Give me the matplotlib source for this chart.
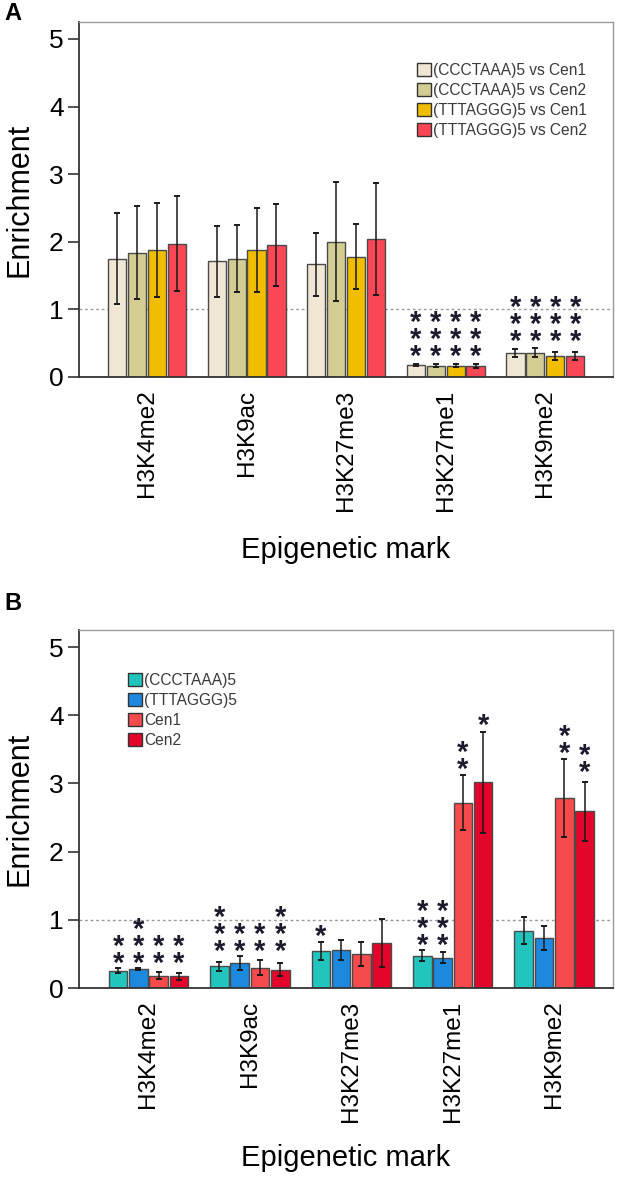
"""
Histone mark enrichment at telomeric repeats vs centromeric repeats.
Two stacked bar panels (A: ratios, B: per-probe enrichment).
"""

import numpy as np
import matplotlib
matplotlib.use("Agg")
import matplotlib.pyplot as plt
import matplotlib.transforms as mtransforms
from matplotlib.patches import Patch

plt.rcParams["font.family"] = ["Liberation Sans", "DejaVu Sans"]

W, H = 629, 1185

marks = ["H3K4me2", "H3K9ac", "H3K27me3", "H3K27me1", "H3K9me2"]

# ---- panel A: telomeric repeat vs centromeric repeat ratios ----
a_labels = ["(CCCTAAA)5 vs Cen1", "(CCCTAAA)5 vs Cen2",
            "(TTTAGGG)5 vs Cen1", "(TTTAGGG)5 vs Cen2"]
a_ccc_cen1 = [1.75, 1.71, 1.665, 0.18, 0.36]
a_ccc_cen1_err = [0.67, 0.52, 0.46, 0.015, 0.06]
a_ccc_cen2 = [1.84, 1.75, 2.00, 0.17, 0.36]
a_ccc_cen2_err = [0.69, 0.50, 0.88, 0.02, 0.065]
a_ttt_cen1 = [1.88, 1.88, 1.78, 0.17, 0.31]
a_ttt_cen1_err = [0.70, 0.62, 0.48, 0.02, 0.055]
a_ttt_cen2 = [1.97, 1.95, 2.04, 0.16, 0.31]
a_ttt_cen2_err = [0.70, 0.61, 0.83, 0.03, 0.065]
# number of significance stars per bar and height of the lowest star
a_stars = [[0, 0, 0, 3, 3]] * 4
a_star_base = [[0, 0, 0, 0.40, 0.62]] * 4

# ---- panel B: enrichment per probe ----
b_labels = ["(CCCTAAA)5", "(TTTAGGG)5", "Cen1", "Cen2"]
b_ccc = [0.254, 0.32, 0.54, 0.47, 0.84]
b_ccc_err = [0.04, 0.065, 0.13, 0.08, 0.20]
b_ttt = [0.28, 0.37, 0.56, 0.445, 0.73]
b_ttt_err = [0.02, 0.10, 0.15, 0.08, 0.18]
b_cen1 = [0.18, 0.30, 0.50, 2.72, 2.79]
b_cen1_err = [0.05, 0.115, 0.18, 0.40, 0.57]
b_cen2 = [0.17, 0.27, 0.665, 3.02, 2.59]
b_cen2_err = [0.055, 0.09, 0.35, 0.74, 0.435]
b_stars = [[2, 3, 1, 3, 0],
           [3, 2, 0, 3, 0],
           [2, 2, 0, 2, 2],
           [2, 3, 0, 1, 2]]
b_star_base = [[0.45, 0.635, 0.855, 0.71, 0],
               [0.45, 0.635, 0, 0.71, 0],
               [0.45, 0.63, 0, 3.30, 3.54],
               [0.45, 0.635, 0, 3.94, 3.25]]

a_colors = ["#EFE6D3", "#D3CD93", "#F0BD00", "#FA4655"]
b_colors = ["#22C4BE", "#1C88DE", "#F64A4C", "#E4052B"]

BAR_W = 0.183
SLOT = 0.2
STAR_FS = 21


def px_axes(left, top, right, bottom):
    """Axes rectangle from pixel edges (top-down y)."""
    return [left / W, (H - bottom) / H, (right - left) / W, (bottom - top) / H]


def draw_panel(fig, rect, xlim, series, errs, colors, labels, stars,
               star_base, legend_anchor, letter, letter_y):
    ax = fig.add_axes(rect)
    x = np.arange(len(marks))
    offsets = (np.arange(4) - 1.5) * SLOT

    ax.axhline(1, color="#9a9a9a", lw=1.0, ls=(0, (2, 2)), zorder=0.5)

    # stacked stars: one text per bar, bottom star sits at star_base
    star_tr = mtransforms.offset_copy(ax.transData, fig=fig, y=-15,
                                      units="points")
    for i in range(4):
        ax.bar(x + offsets[i], series[i], width=BAR_W, color=colors[i],
               edgecolor="#4a4a4a", linewidth=1.0, zorder=2)
        ax.errorbar(x + offsets[i], series[i], yerr=errs[i], fmt="none",
                    ecolor="#1a1a1a", elinewidth=1.1, capsize=2.2,
                    capthick=1.4, zorder=3)
        for j in range(len(marks)):
            if stars[i][j] == 0:
                continue
            ax.text(x[j] + offsets[i], star_base[i][j],
                    "\n".join(["*"] * stars[i][j]), ha="center",
                    va="bottom", fontsize=STAR_FS, fontweight="bold",
                    linespacing=0.5, color="#1b1b2e",
                    transform=star_tr, zorder=4)

    ax.set_xlim(*xlim)
    ax.set_ylim(0, 5.25)
    ax.set_yticks(range(6))
    ax.set_xticks(x)
    ax.set_xticklabels(marks, rotation=90, fontsize=17.5)
    ax.tick_params(axis="x", length=0, pad=9)
    ax.tick_params(axis="y", length=8, width=1.2, labelsize=19, pad=3,
                   color="#333333")

    for side in ("top", "right"):
        ax.spines[side].set_color("#9a9a9a")
        ax.spines[side].set_linewidth(1.0)
    for side in ("left", "bottom"):
        ax.spines[side].set_color("#333333")
        ax.spines[side].set_linewidth(1.3)

    ax.set_ylabel("Enrichment", fontsize=22, va="center")
    ax.yaxis.set_label_coords(-0.112, 0.5)
    ax.set_xlabel("Epigenetic mark", fontsize=21, va="center")

    handles = [Patch(facecolor=c, edgecolor="#333333", linewidth=1.0)
               for c in colors]
    leg = ax.legend(handles, labels, loc="upper left",
                    bbox_to_anchor=legend_anchor, frameon=False,
                    fontsize=11.2, handlelength=0.9, handleheight=0.9,
                    handletextpad=0.15, labelspacing=0.32, borderpad=0,
                    borderaxespad=0)
    for t in leg.get_texts():
        t.set_color("#3a3a3a")

    fig.text(4 / W, 1 - letter_y / H, letter, fontsize=17,
             fontweight="bold", ha="left", va="center")
    return ax


fig = plt.figure(figsize=(W / 100, H / 100), dpi=100)

ax_a = draw_panel(
    fig, px_axes(79, 22, 613, 377), (-0.683, 4.68),
    [a_ccc_cen1, a_ccc_cen2, a_ttt_cen1, a_ttt_cen2],
    [a_ccc_cen1_err, a_ccc_cen2_err, a_ttt_cen1_err, a_ttt_cen2_err],
    a_colors, a_labels, a_stars, a_star_base, (0.633, 0.885), "A", 13)
ax_a.xaxis.set_label_coords(0.5, -0.487)

ax_b = draw_panel(
    fig, px_axes(79, 630, 613, 988), (-0.685, 4.58),
    [b_ccc, b_ttt, b_cen1, b_cen2],
    [b_ccc_err, b_ttt_err, b_cen1_err, b_cen2_err],
    b_colors, b_labels, b_stars, b_star_base, (0.092, 0.88), "B", 603)
ax_b.xaxis.set_label_coords(0.5, -0.475)

fig.savefig("out.png", dpi=100)
